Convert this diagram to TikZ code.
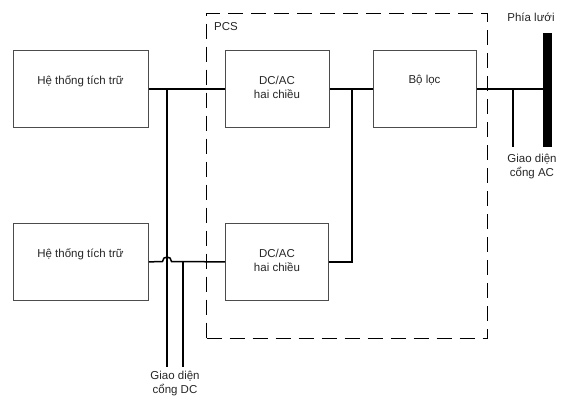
\documentclass[tikz,border=0pt]{standalone}
\usepackage{fontspec}
\setmainfont{Liberation Sans}
\begin{document}
\begin{tikzpicture}[x=1pt,y=-1pt,
  blk/.style={draw=black!70,line width=0.8pt,rectangle,inner sep=0pt,anchor=north west},
  wire/.style={line width=1.5pt},
  pcsbox/.style={line width=1.3pt,dash pattern=on 15pt off 8pt},
  txt/.style={font=\fontsize{11.5}{14}\selectfont,align=center,inner sep=0pt,text=black!85}]
\useasboundingbox (0,0) rectangle (575,401);
% boxes
\node[blk,minimum width=135pt,minimum height=77pt] (s1) at (13,50) {};
\node[blk,minimum width=135pt,minimum height=77pt] (s2) at (13,223) {};
\node[blk,minimum width=104pt,minimum height=77pt] (dc1) at (225,50) {};
\node[blk,minimum width=103pt,minimum height=77pt] (dc2) at (225,223) {};
\node[blk,minimum width=103pt,minimum height=77pt] (f) at (373,50) {};
\node[fill=black,inner sep=0pt,minimum width=9pt,minimum height=114pt,anchor=north west] (gb) at (543,33) {};
% PCS dashed box
\node[pcsbox,draw,inner sep=0pt,minimum width=281pt,minimum height=325pt,anchor=north west] (pcs) at (206,13) {};
% texts
\node[txt] (t1) at (80.5,81) {Hệ thống tích trữ};
\node[txt] (t2) at (80.5,254) {Hệ thống tích trữ};
\node[txt] (t3) at (277,87) {DC/AC\\hai chiều};
\node[txt] (t4) at (277,260) {DC/AC\\hai chiều};
\node[txt] (t5) at (424.5,80) {Bộ lọc};
\node[txt,anchor=west] (t6) at (214,27) {PCS};
\node[txt] (t7) at (531,17) {Phía lưới};
\node[txt] (t8) at (532,167) {Giao diện\\cổng AC};
\node[txt] (t9) at (175,384) {Giao diện\\cổng DC};
% coordinates
\coordinate (j1) at (352,88.5);
\coordinate (dcA) at (167,88.5);
\coordinate (dcAend) at (167,367);
\coordinate (dcB) at (183,261.5);
\coordinate (dcBend) at (183,367);
\coordinate (acT) at (513,88.5);
\coordinate (acEnd) at (513,147);
% wires
\draw[wire] (s1.east) -- (dc1.west);
\draw[wire] (dc1.east) -- (dc1.east -| f.west);
\draw[wire] (j1) |- (dc2.east);
\draw[wire] (s2.east) -- (162.5,261.5) .. controls (162.5,255.5) and (171.5,255.5) .. (171.5,261.5) -- (dc2.west);
\draw[wire] (dcA) -- (dcAend);
\draw[wire] (dcB) -- (dcBend);
\draw[wire] (f.east) -- (f.east -| gb.west);
\draw[wire] (acT) -- (acEnd);
\end{tikzpicture}
\end{document}
